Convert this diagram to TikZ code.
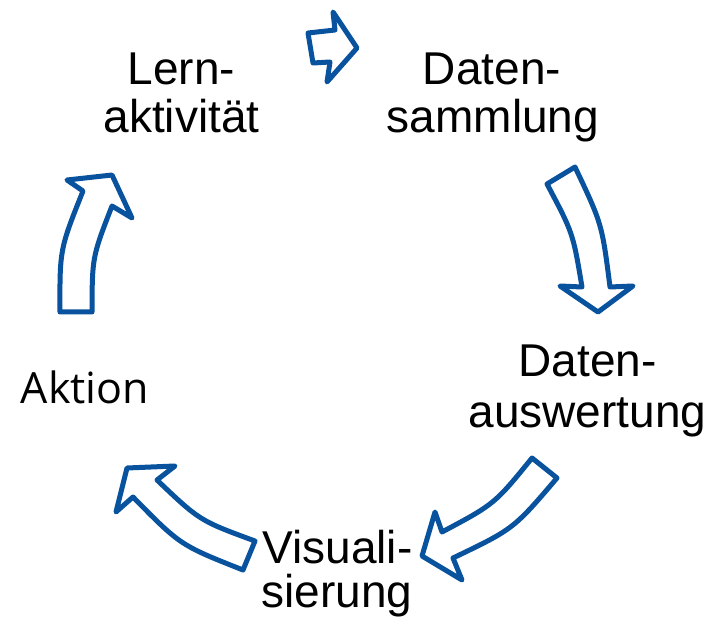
\documentclass[tikz,border=0pt]{standalone}
\usepackage{fontspec}
\setmainfont{Liberation Sans}
\newfontfamily\labelalt{Open Sans}
\definecolor{cycleblue}{RGB}{8,82,158}
\begin{document}
\begin{tikzpicture}[x=1pt,y=-1pt,
  blockarrow/.style={draw=cycleblue,line width=5pt,line join=round,fill=white},
  steplabel/.style={inner sep=0pt,anchor=base,font=\fontsize{46}{46}\selectfont},
  altlabel/.style={inner sep=0pt,anchor=base,font=\labelalt\fontsize{43}{43}\selectfont}]
\useasboundingbox (0,0) rectangle (715,620);

% stage labels, one node per line
\node[steplabel] (lern1) at (181.5,85) {Lern-};
\node[steplabel] (lern2) at (181.5,133) {aktivität};
\node[steplabel] (samm1) at (492,85) {Daten-};
\node[steplabel] (samm2) at (493,133) {sammlung};
\node[steplabel] (ausw1) at (587.5,377) {Daten-};
\node[steplabel] (ausw2) at (587.5,427) {auswertung};
\node[steplabel] (visu1) at (337.5,563) {Visuali-};
\node[steplabel] (visu2) at (337,607) {sierung};
\node[altlabel] (akt) at (85,403) {Aktion};

% short straight arrow: Lernaktivität -> Datensammlung
\draw[blockarrow] (308,33) -- (335,30) -- (333,12) -- (357,48) -- (327,82)
  -- (330,62) -- (313,63) -- cycle;

% curved arrow: Datensammlung -> Datenauswertung
\draw[blockarrow] (547,184) -- (575,167) .. controls (602,224) .. (610,287)
  -- (633,286) -- (598,312) -- (560,286) -- (582,287)
  .. controls (573,233) .. cycle;

% curved arrow: Datenauswertung -> Visualisierung
\draw[blockarrow] (532,458) -- (557,478) .. controls (513.5,529) .. (453,558)
  -- (462,580) -- (422,556) -- (435,512) -- (442,532)
  .. controls (494.6,504) .. cycle;

% curved arrow: Visualisierung -> Aktion
\draw[blockarrow] (255,541) -- (243,570) .. controls (180.3,545.2) .. (133,497)
  -- (116,512) -- (127,468) -- (175,466) -- (157,480)
  .. controls (199.7,520.7) .. cycle;

% curved arrow: Aktion -> Lernaktivität
\draw[blockarrow] (60,312) -- (92,312) .. controls (92.2,257) .. (112,206)
  -- (132,218) -- (112,175) -- (67,180) -- (83,191)
  .. controls (59.7,249.3) .. cycle;
\end{tikzpicture}
\end{document}
